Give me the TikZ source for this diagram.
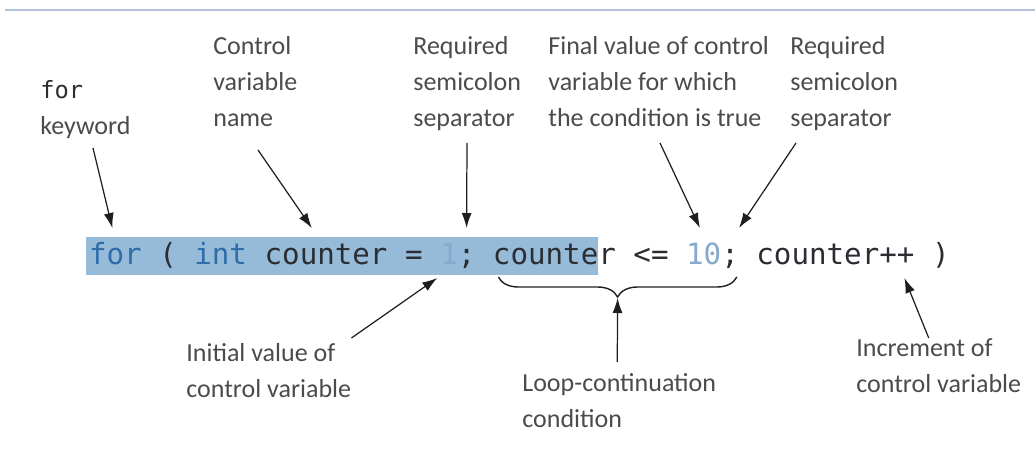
\documentclass[tikz,border=0pt]{standalone}
\usepackage{fontspec}
\setmainfont{Carlito}
\newfontfamily\codefont{DejaVu Sans Mono}
\usetikzlibrary{arrows.meta,positioning,calc,backgrounds,decorations.pathreplacing}
\definecolor{rulebl}{HTML}{AFC2DA}
\definecolor{hilite}{HTML}{96BBD9}
\definecolor{kwblue}{HTML}{2F6DAA}
\definecolor{numblue}{HTML}{86A9CE}
\definecolor{codeink}{HTML}{2A2E33}
\definecolor{lblgray}{HTML}{4B4B4F}
\definecolor{arrink}{HTML}{1E1E1E}
\tikzset{
  codepart/.style={anchor=base west,inner sep=0pt,outer sep=0pt,
                   text height=0.54cm,text depth=0.22cm,
                   font=\codefont\fontsize{16.6}{20}\selectfont,text=codeink},
  kwpart/.style={codepart,text=kwblue},
  numpart/.style={codepart,text=numblue},
  notetext/.style={anchor=north west,inner sep=0pt,align=left,
                   font=\fontsize{14.8}{20.5}\selectfont,text=lblgray},
  notearr/.style={-{Latex[length=3mm,width=2mm]},line width=0.7pt,draw=arrink},
  curly/.style={decorate,decoration={brace,mirror,amplitude=0.4cm},
                line width=0.8pt,draw=arrink}
}

\begin{document}
\begin{tikzpicture}[x=1cm,y=1cm]
  \useasboundingbox (0,0) rectangle (20.7,9);
  \draw[rulebl,line width=1.6pt] (0.1,8.8) -- (20.7,8.8);

  % the for header, piece by piece
  \node[kwpart] (kwfor) at (1.78,3.72) {for};
  \node[codepart] (paren) at (kwfor.base east) {\ (};
  \node[kwpart] (kwint) at (paren.base east) {\ int};
  \node[codepart] (ctrl) at (kwint.base east) {\ counter};
  \node[codepart] (assign) at (ctrl.base east) {\ =};
  \node[numpart] (init) at (assign.base east) {\ 1};
  \node[codepart] (semi1) at (init.base east) {;};
  \node[codepart] (condA) at (semi1.base east) {\ counte};
  \node[codepart] (condB) at (condA.base east) {r\ <=};
  \node[numpart] (final) at (condB.base east) {\ 10};
  \node[codepart] (semi2) at (final.base east) {;};
  \node[codepart] (incr) at (semi2.base east) {\ counter++};
  \node[codepart] (close) at (incr.base east) {\ )};

  \begin{scope}[on background layer]
    \fill[hilite] ([xshift=-0.06cm]kwfor.south west) rectangle (condA.north east);
  \end{scope}

  % brace under the condition
  \coordinate (bl) at ($(condA.south west)+(0.46,-0.04)$);
  \coordinate (br) at ($(semi2.south east)+(-0.04,-0.04)$);
  \draw[curly] (bl) -- (br);
  \coordinate (btip) at ($(bl)!0.5!(br)+(0,-0.42)$);

  % labels
  \node[notetext] (lblfor) at (0.8,7.4) {{\codefont\fontsize{13.5}{20.5}\selectfont\color{codeink}for}\\keyword};
  \node[notetext] (lblctrl) at (4.26,8.28) {Control\\variable\\name};
  \node[notetext] (lblsemi1) at (8.26,8.28) {Required\\semicolon\\separator};
  \node[notetext] (lblfinal) at (10.96,8.28) {Final value of control\\variable for which\\the condition is true};
  \node[notetext] (lblsemi2) at (15.8,8.28) {Required\\semicolon\\separator};
  \node[notetext] (lblinit) at (3.72,2.14) {Initial value of\\control variable};
  \node[notetext] (lblloop) at (10.44,1.54) {Loop-continuation\\condition};
  \node[notetext] (lblinc) at (17.12,2.24) {Increment of\\control variable};

  % arrows
  \draw[notearr] ([shift={(1.06,-1.36)}]lblfor.north west) -- ([shift={(-0.06,0.18)}]kwfor.north);
  \draw[notearr] ([shift={(0.9,-2.28)}]lblctrl.north west) -- ([shift={(-0.11,0.18)}]ctrl.north);
  \draw[notearr] ([shift={(1.08,-2.14)}]lblsemi1.north west) -- ([shift={(0,0.18)}]semi1.north);
  \draw[notearr] ([shift={(2.24,-2.14)}]lblfinal.north west) -- ([shift={(0.1,0.18)}]final.north);
  \draw[notearr] ([shift={(0.12,-2.14)}]lblsemi2.north west) -- ([shift={(0.18,0.18)}]semi2.north);
  \draw[notearr] ([shift={(0,0.1)}]lblinit.north east) -- ([shift={(-0.06,-0.06)}]init.south);
  \draw[notearr] ([shift={(-0.04,0.22)}]lblloop.north) -- (btip);
  \draw[notearr] ([shift={(-0.2,0)}]lblinc.north) -- ([shift={(-0.2,-0.06)}]incr.south east);
\end{tikzpicture}
\end{document}
